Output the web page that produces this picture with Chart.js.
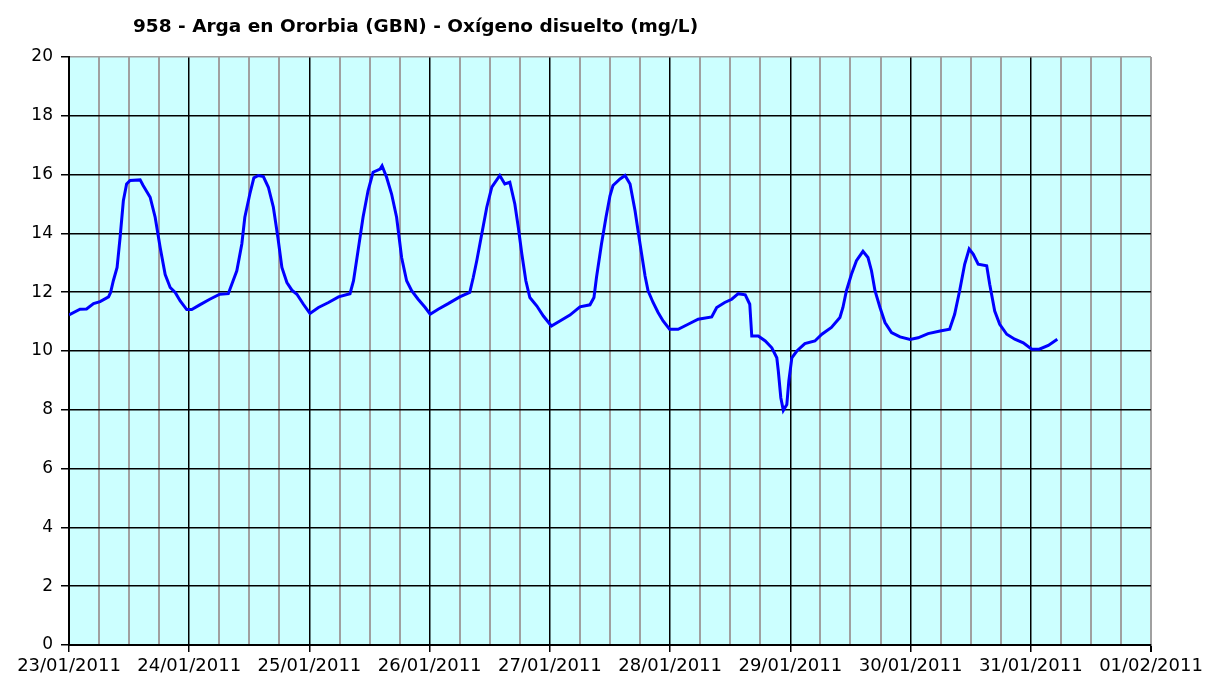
<!DOCTYPE html>
<html>
<head>
<meta charset="utf-8">
<title>958 - Arga en Ororbia (GBN) - Oxígeno disuelto</title>
<script src="https://cdn.jsdelivr.net/npm/chart.js@4/dist/chart.umd.min.js"></script>
<style>
  html, body { margin: 0; padding: 0; background: #fff; }
  #wrap { width: 1208px; height: 679px; position: relative; }
</style>
</head>
<body>
<div id="wrap"><canvas id="chart"></canvas></div>
<script>
// Título y etiquetas de los días (eje X en horas desde 23/01/2011 00:00)
const chartTitle = "958 - Arga en Ororbia (GBN) - Oxígeno disuelto (mg/L)";
const dayLabels = ["23/01/2011", "24/01/2011", "25/01/2011", "26/01/2011", "27/01/2011",
                   "28/01/2011", "29/01/2011", "30/01/2011", "31/01/2011", "01/02/2011"];
const yTicks = [0, 2, 4, 6, 8, 10, 12, 14, 16, 18, 20];

// horas desde el inicio
const hours = [
  0, 2.2, 3.5, 4.9, 6.2, 7.9, 8.3, 8.85, 9.6, 10.2, 10.85, 11.5, 12.2, 14.2, 14.8, 16.2, 17.2, 18.2, 19.2, 20.2, 21.2, 22.2, 23.5,
  24.5, 26.1, 28.1, 30.1, 31.8, 32.5, 33.5, 34.5, 35.1, 36.1, 36.9, 37.8, 38.8, 39.8, 40.8, 41.7, 42.5, 43.5, 44.5, 45.5, 46.8,
  48.1, 49.8, 51.8, 53.8, 56.1, 56.8, 57.7, 58.7, 59.7, 60.7, 62.1, 62.5, 63.4, 64.4, 65.4, 66.4, 67.4, 68.4, 69.7, 71.1,
  72.1, 73.7, 75.7, 78.0, 80.0, 80.7, 81.4, 82.4, 83.4, 84.4, 86.0, 87.0, 88.0, 89.0, 89.7, 90.4, 91.2, 92.0, 93.4, 94.7,
  96.3, 98.0, 100.0, 102.0, 104.0, 104.8, 105.3, 106.3, 107.2, 108.0, 108.6, 110.0, 111.0, 112.0, 113.0, 114.0, 115.0, 115.6, 116.6, 117.6, 118.6,
  119.9, 121.6, 123.6, 125.6, 128.3, 129.3, 130.9, 132.3, 133.6, 135.0, 135.9, 136.3, 137.6, 139.0, 140.3, 141.3, 141.6, 142.1, 142.6, 143.3, 143.7,
  144.3, 145.3, 146.9, 148.9, 150.3, 152.2, 153.9, 154.5, 155.2, 156.2, 157.2, 158.5, 159.5, 160.2, 160.9, 161.9, 162.9, 164.2, 165.9,
  167.9, 169.5, 171.5, 173.9, 175.8, 176.8, 177.8, 178.8, 179.7, 180.5, 181.5, 183.2, 183.8, 184.8, 185.8, 187.2, 188.8, 190.5,
  192.2, 193.7, 195.5, 197.3
];

// oxígeno disuelto (mg/L)
const oxygen = [
  11.23, 11.42, 11.43, 11.61, 11.68, 11.84, 11.99, 12.39, 12.84, 13.86, 15.11, 15.68, 15.80, 15.82, 15.63, 15.23, 14.55, 13.52, 12.60, 12.16, 11.99, 11.70, 11.41,
  11.41, 11.57, 11.76, 11.93, 11.95, 12.27, 12.73, 13.64, 14.55, 15.34, 15.89, 15.97, 15.93, 15.57, 14.89, 13.86, 12.84, 12.33, 12.07, 11.93, 11.59,
  11.28, 11.48, 11.65, 11.84, 11.95, 12.39, 13.41, 14.55, 15.45, 16.08, 16.19, 16.30, 15.91, 15.34, 14.55, 13.18, 12.39, 12.05, 11.76, 11.48,
  11.25, 11.42, 11.61, 11.84, 11.99, 12.50, 13.07, 13.98, 14.89, 15.57, 15.97, 15.68, 15.74, 15.00, 14.20, 13.30, 12.39, 11.82, 11.53, 11.19,
  10.85, 11.02, 11.22, 11.50, 11.57, 11.82, 12.50, 13.64, 14.55, 15.28, 15.63, 15.85, 15.97, 15.68, 14.77, 13.64, 12.55, 12.05, 11.65, 11.31, 11.02,
  10.74, 10.74, 10.91, 11.08, 11.16, 11.48, 11.65, 11.76, 11.95, 11.91, 11.59, 10.51, 10.51, 10.34, 10.11, 9.77, 9.32, 8.41, 7.98, 8.18, 8.98,
  9.77, 10.00, 10.25, 10.34, 10.57, 10.80, 11.14, 11.48, 12.05, 12.61, 13.07, 13.39, 13.18, 12.73, 12.05, 11.48, 10.97, 10.63, 10.48,
  10.39, 10.45, 10.59, 10.68, 10.74, 11.25, 12.05, 12.95, 13.47, 13.30, 12.95, 12.90, 12.27, 11.36, 10.91, 10.57, 10.40, 10.28,
  10.06, 10.06, 10.19, 10.40
];

const FONT = "'DejaVu Sans', Verdana, sans-serif";

// fondo cian del área de trazado + título
const plotBg = {
  id: "plotBg",
  beforeDraw(chart) {
    const { ctx, chartArea: a } = chart;
    ctx.save();
    ctx.fillStyle = "#CCFFFF";
    ctx.fillRect(a.left, a.top, a.right - a.left, a.bottom - a.top);
    ctx.restore();
  },
  afterDraw(chart) {
    const ctx = chart.ctx;
    ctx.save();
    ctx.font = "bold 18.5px " + FONT;
    ctx.fillStyle = "#000";
    ctx.textBaseline = "alphabetic";
    ctx.fillText(chartTitle, 133, 32);
    ctx.restore();
  }
};

const points = hours.map((h, i) => ({ x: h, y: oxygen[i] }));

new Chart(document.getElementById("chart"), {
  type: "line",
  data: {
    datasets: [{
      data: points,
      borderColor: "#0000FF",
      borderWidth: 3,
      pointRadius: 0,
      tension: 0,
      fill: false
    }]
  },
  options: {
    responsive: true,
    maintainAspectRatio: false,
    animation: false,
    layout: { padding: { top: 57, right: 57, bottom: 0, left: 0 } },
    plugins: { legend: { display: false }, tooltip: { enabled: false }, title: { display: false } },
    scales: {
      x: {
        type: "linear",
        min: 0,
        max: (dayLabels.length - 1) * 24,
        afterFit: s => { s.height = 34; },
        border: { color: "#000", width: 2 },
        grid: {
          color: c => c.tick.value === 216 ? "#A0A0A0" : (c.tick.value % 24 === 0 ? "#000" : "#A0A0A0"),
          lineWidth: c => c.tick.value % 24 === 0 && c.tick.value !== 216 ? 1.5 : 2,
          tickColor: c => c.tick.value % 24 === 0 ? "#000" : "rgba(0,0,0,0)",
          tickLength: 7
        },
        ticks: {
          stepSize: 6,
          autoSkip: false,
          maxRotation: 0,
          padding: 4,
          color: "#000",
          font: { family: FONT, size: 18 },
          callback: v => v % 24 === 0 ? dayLabels[v / 24] : ""
        }
      },
      y: {
        min: yTicks[0],
        max: yTicks[yTicks.length - 1],
        afterFit: s => { s.width = 69; },
        border: { color: "#000", width: 2 },
        grid: {
          color: c => c.tick.value === 20 ? "#A0A0A0" : "#000",
          lineWidth: 1.5,
          tickColor: "#000",
          tickLength: 8
        },
        ticks: {
          stepSize: 2,
          padding: 8,
          color: "#000",
          font: { family: FONT, size: 17 }
        }
      }
    }
  },
  plugins: [plotBg]
});
</script>
</body>
</html>
